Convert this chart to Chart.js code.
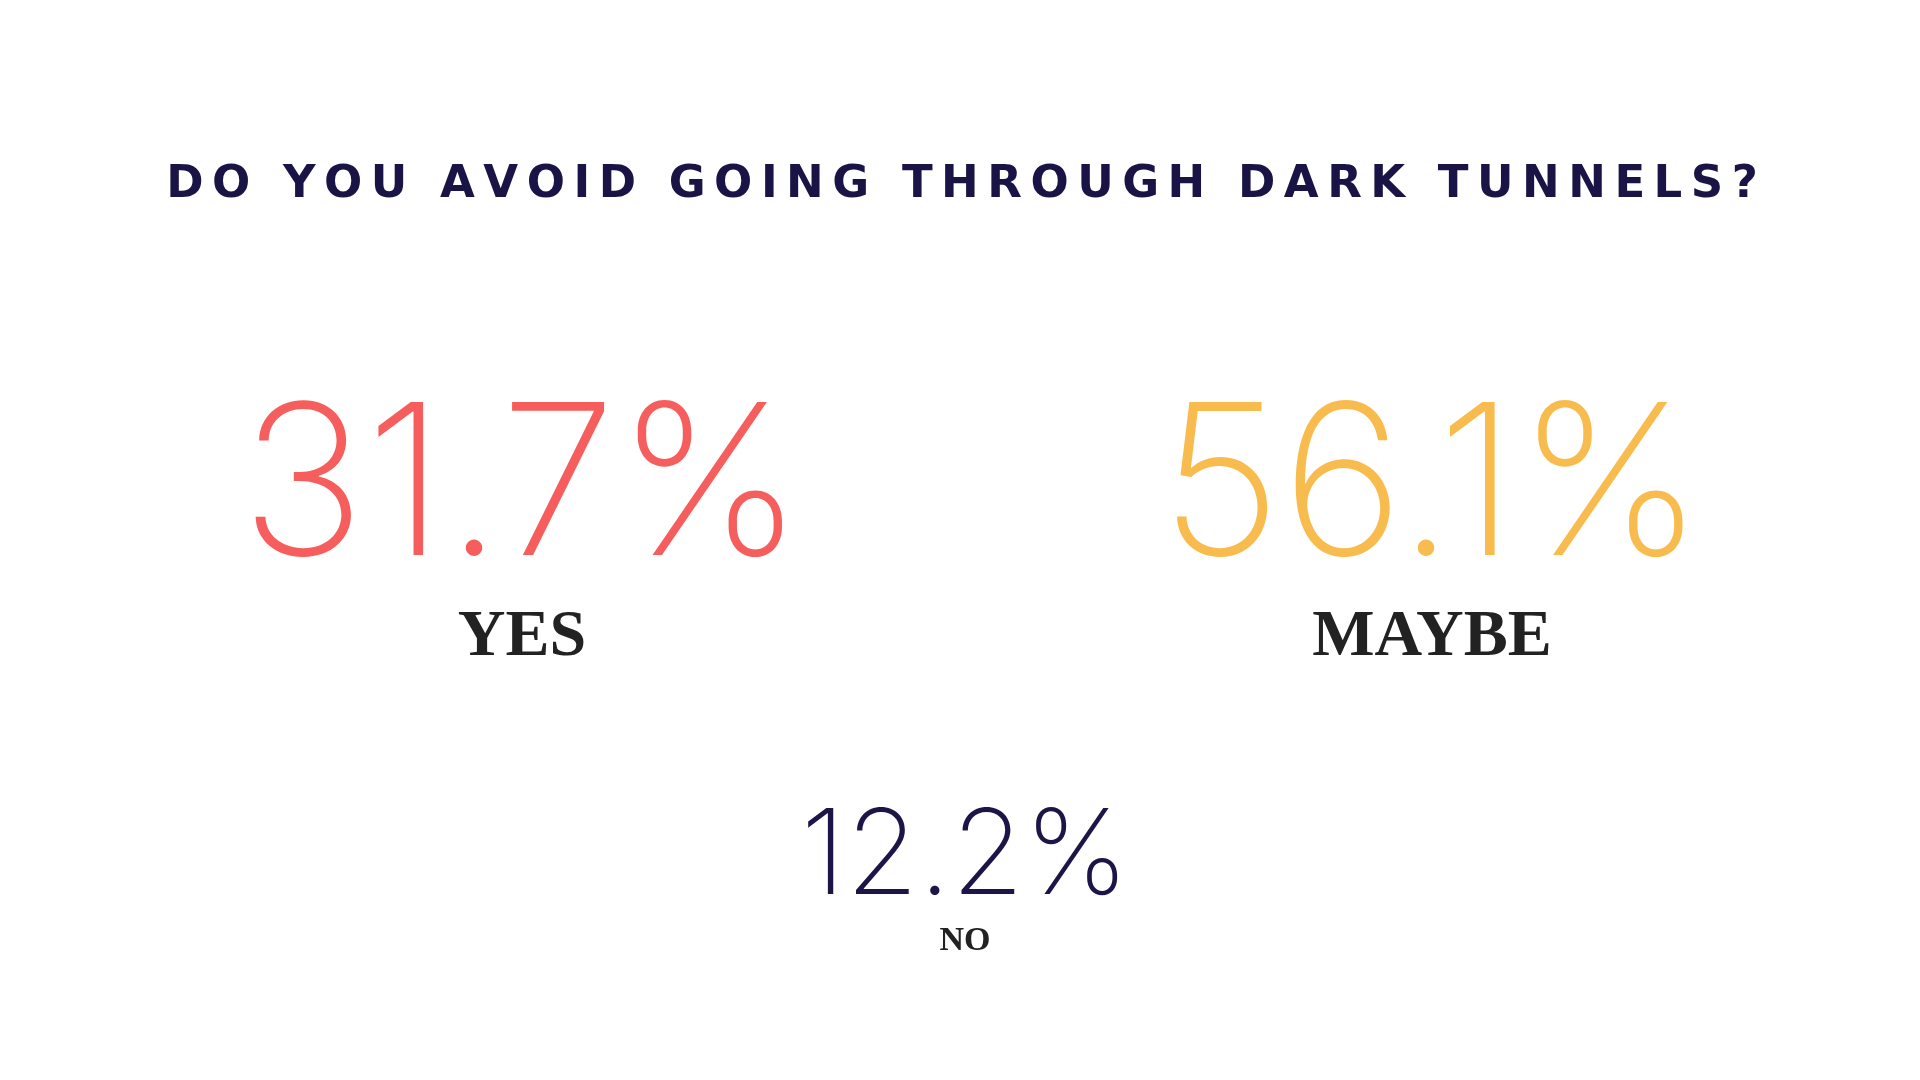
<!DOCTYPE html>
<html><head><meta charset="utf-8">
<script src="https://cdn.jsdelivr.net/npm/chart.js@4"></script>
<style>html,body{margin:0;padding:0;background:#fff}#w{width:1920px;height:1080px}</style>
</head><body><div id="w"><canvas id="c"></canvas></div>
<script>
const title = "DO YOU AVOID GOING THROUGH DARK TUNNELS?";
const categories = ["YES", "MAYBE", "NO"];
const values = [31.7, 56.1, 12.2];
const colors = ["#f65e5d", "#f8bc4e", "#1d1448"];

const layout = [
  {cx:522, by:555, size:210, lby:655, lsize:66},
  {cx:1432, by:555, size:210, lby:655, lsize:66},
  {cx:965, by:894, size:118, lby:950, lsize:34}
];

function spaced(ctx, text, cx, y, sp){
  let w=0; for(const ch of text) w+=ctx.measureText(ch).width+sp; w-=sp;
  let x=cx-w/2; ctx.textAlign='left';
  for(const ch of text){ctx.fillText(ch,x,y); x+=ctx.measureText(ch).width+sp;}
}

const textPlugin = {
  id:'texts',
  afterDraw(chart){
    const ctx=chart.ctx; ctx.save();
    ctx.fillStyle='#1a1446'; ctx.font='900 45px "DejaVu Sans", sans-serif'; ctx.textBaseline='alphabetic';
    spaced(ctx,title,962,197,8.5);
    chart.data.labels.forEach((lab,i)=>{
      const L=layout[i], v=chart.data.datasets[0].data[i];
      ctx.fillStyle=colors[i]; ctx.textAlign='center';
      ctx.font='200 '+L.size+'px Inter, Lato, sans-serif';
      ctx.fillText(v.toFixed(1)+'%',L.cx,L.by);
      ctx.fillStyle='#222'; ctx.font='bold '+L.lsize+'px "Liberation Serif", serif';
      ctx.fillText(lab,L.cx,L.lby);
    });
    ctx.restore();
  }
};

new Chart(document.getElementById('c'),{
  type:'bar',
  data:{labels:categories,datasets:[{data:values,backgroundColor:'rgba(0,0,0,0)'}]},
  options:{responsive:true,maintainAspectRatio:false,animation:false,
    plugins:{legend:{display:false},tooltip:{enabled:false}},
    scales:{x:{display:false},y:{display:false}}},
  plugins:[textPlugin]
});
</script></body></html>
